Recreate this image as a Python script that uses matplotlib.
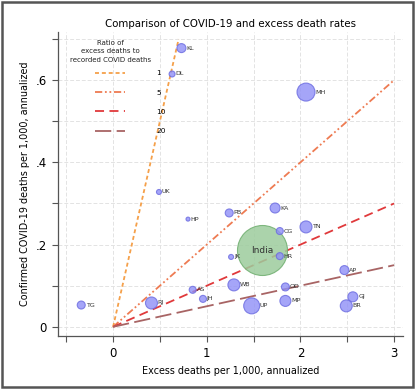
import matplotlib.pyplot as plt
from matplotlib.patches import Rectangle

# state-level data
states = ['KL', 'DL', 'MH', 'UK', 'HP', 'PB', 'KA', 'CG', 'TN', 'HR', 'JK', 'AP',
          'WB', 'OD', 'GJ', 'BR', 'MP', 'UP', 'JH', 'AS', 'RJ', 'TG']
excess = [0.73, 0.63, 2.06, 0.49, 0.80, 1.24, 1.73, 1.78, 2.06, 1.78, 1.26, 2.47,
          1.29, 1.84, 2.56, 2.49, 1.84, 1.48, 0.96, 0.85, 0.41, -0.34]
covid = [0.678, 0.615, 0.571, 0.328, 0.262, 0.277, 0.289, 0.233, 0.243, 0.172, 0.170, 0.138,
         0.102, 0.097, 0.073, 0.051, 0.063, 0.051, 0.068, 0.090, 0.058, 0.053]
radius_px = [4.5, 3, 9, 2.5, 2, 4, 5, 3.5, 6, 3.5, 2.5, 4.5,
             6, 4, 5, 6, 5.5, 8, 3.5, 3.5, 6, 4]

india_x = 1.59
india_y = 0.186
india_r = 25

ratios = [1, 5, 10, 20]
ratio_xmax = [0.7, 3, 3, 3]
ratio_colors = ['#F5A04A', '#EE7B52', '#E0393B', '#A86464']
ratio_styles = [(0, (2.2, 1.6)), (0, (4, 1.5, 1, 1.5, 1, 1.5)), (0, (5, 3)), (0, (9, 3))]

fig = plt.figure(figsize=(4.18, 3.91), dpi=100)
ax = fig.add_axes([0.139, 0.141, 0.825, 0.777])

def s_of(r):
    return (2 * r * 0.72) ** 2

for r, xm, c, ls in zip(ratios, ratio_xmax, ratio_colors, ratio_styles):
    ax.plot([0, xm], [0, xm / r], color=c, linestyle=ls, lw=1.3, label=str(r), zorder=2)

ax.scatter([india_x], [india_y], s=s_of(india_r), color='#9DCC9D', edgecolor='#6FAE6F',
           alpha=0.85, lw=0.8, zorder=3)
ax.text(india_x, india_y, 'India', ha='center', va='center', fontsize=6.5, color='#333333', zorder=5)

ax.scatter(excess, covid, s=[s_of(r) for r in radius_px], color='#8F8FF7',
           edgecolor='#6A6AE0', alpha=0.8, lw=0.8, zorder=4)
for st, x, y, r in zip(states, excess, covid, radius_px):
    ax.text(x + (r + 0.3) / 93.7, y, st, fontsize=4.6, va='center', ha='left',
            color='#333333', zorder=6)

ax.set_xlim(-0.587, 3.095)
ax.set_ylim(-0.022, 0.717)
ax.set_xticks([0, 1, 2, 3])
ax.set_xticks([-0.5, 0.5, 1.5, 2.5], minor=True)
ax.set_yticks([0, 0.2, 0.4, 0.6])
ax.set_yticklabels(['0', '.2', '.4', '.6'])
ax.set_yticks([0.1, 0.3, 0.5, 0.7], minor=True)
ax.tick_params(which='both', direction='out', length=4.5, width=0.8, color='#555555',
               labelsize=8.5)
ax.grid(True, which='both', color='#E3E3E3', linestyle=(0, (4, 2)), lw=0.7)
ax.set_axisbelow(True)
for side in ['top', 'right']:
    ax.spines[side].set_visible(False)
for side in ['left', 'bottom']:
    ax.spines[side].set_color('#555555')
    ax.spines[side].set_linewidth(0.9)

ax.set_xlabel('Excess deaths per 1,000, annualized', fontsize=6.9)
ax.set_ylabel('Confirmed COVID-19 deaths per 1,000, annualized', fontsize=6.9)
ax.set_title('Comparison of COVID-19 and excess death rates', fontsize=7.4, pad=4)

# legend: title as separate centred text, entries below it
ax.text(0.151, 0.975, 'Ratio of\nexcess deaths to\nrecorded COVID deaths', transform=ax.transAxes,
        ha='center', va='top', fontsize=5, linespacing=1.5, color='#222222')
ax.legend(loc='upper left', bbox_to_anchor=(0.107, 0.875), frameon=False, fontsize=5.3,
          handlelength=4.1, labelspacing=1.8, handletextpad=4.2, borderpad=0, borderaxespad=0)

fig.patches.append(Rectangle((0.005, 0.01), 0.984, 0.984, transform=fig.transFigure,
                             fill=False, edgecolor='#555555', lw=1.8))

fig.savefig('out.png', dpi=100)
